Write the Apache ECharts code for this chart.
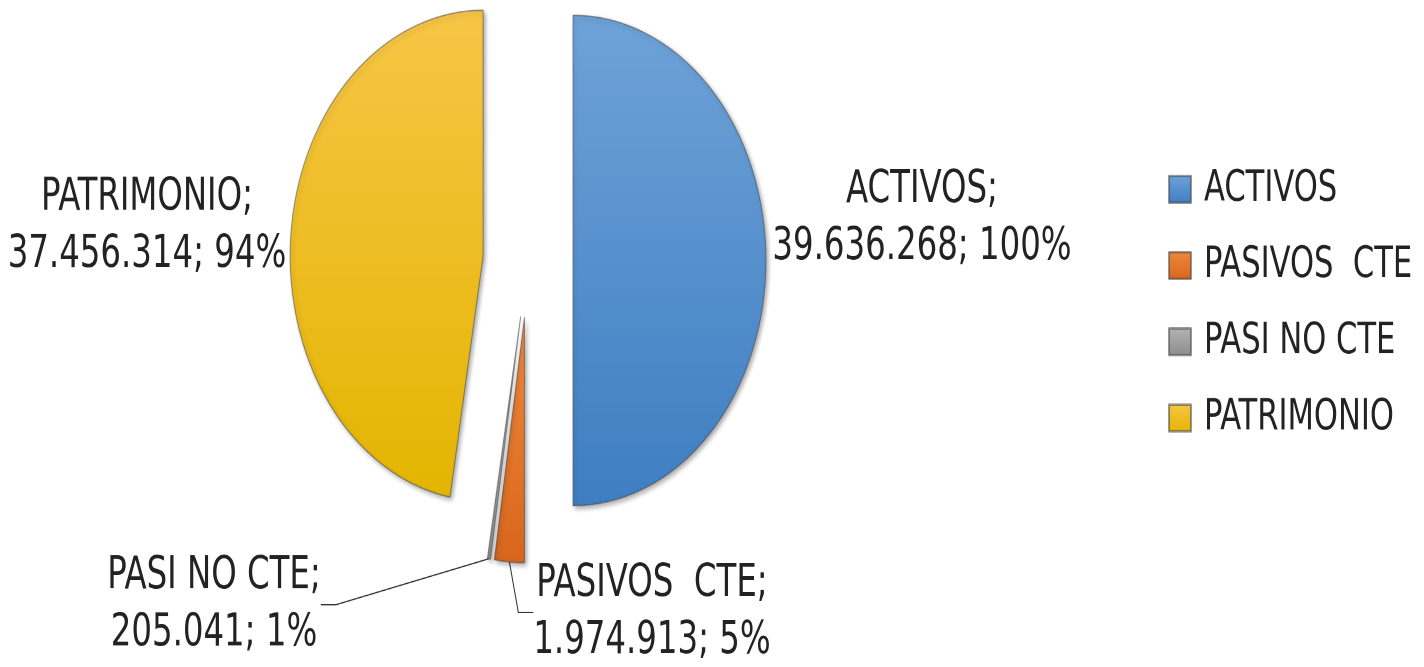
<!DOCTYPE html>
<html><head><meta charset="utf-8">
<script src="https://cdn.jsdelivr.net/npm/echarts@6/dist/echarts.min.js"></script>
<style>
html,body{margin:0;padding:0;background:#fff;overflow:hidden}
#wrap{width:1424px;height:667px;overflow:hidden;position:relative}
#chart{width:1424px;height:525px;transform-origin:0 0;transform:scaleY(1.2705)}
</style></head><body><div id="wrap"><div id="chart"></div></div>
<script>
// ---- data ----
const categories = ['ACTIVOS', 'PASIVOS  CTE', 'PASI NO CTE', 'PATRIMONIO'];
const values = [39636268, 1974913, 205041, 37456314];
const pctLabels = ['100%', '5%', '1%', '94%'];

// ---- styles / layout ----
const FONT = '"Liberation Sans Narrow", "DejaVu Sans Condensed", "Open Sans", sans-serif';
const G = echarts.graphic.LinearGradient;
const fills = [
  new G(0, 0, 0, 1, [{offset: 0, color: '#6fa3d8'}, {offset: 1, color: '#3e7ec2'}]),
  new G(0, 0, 0, 1, [{offset: 0, color: '#f08a3e'}, {offset: 1, color: '#d8661c'}]),
  new G(0, 0, 0, 1, [{offset: 0, color: '#b5b5b5'}, {offset: 1, color: '#8c8c8c'}]),
  new G(0, 0, 0, 1, [{offset: 0, color: '#f7c647'}, {offset: 1, color: '#e4b500'}])
];
const showLine = [false, true, true, false];
const labelCenters = [[922, 172], [652, 482], [214, 476], [147, 178]];
const CENTER = [528, 205];
const R = 193, OFFSET = 45;

function fmt(v) { return String(v).replace(/\B(?=(\d{3})+(?!\d))/g, '.'); }

const chart = echarts.init(document.getElementById('chart'), null, {renderer: 'canvas', devicePixelRatio: 2});
chart.setOption({
  animation: false,
  legend: {
    orient: 'vertical',
    left: 1163,
    top: 124,
    icon: 'rect',
    itemWidth: 22,
    itemHeight: 21,
    itemGap: 20,
    selectedMode: false,
    data: categories,
    textStyle: {fontFamily: FONT, fontSize: 34, lineHeight: 40, color: '#222', padding: [0, 0, 0, 8]}
  },
  series: [{
    // the exploded slices
    type: 'pie',
    center: CENTER,
    radius: R,
    startAngle: 90,
    clockwise: true,
    selectedMode: 'multiple',
    selectedOffset: OFFSET,
    emphasis: {disabled: true},
    itemStyle: {
      borderColor: 'rgba(70,70,70,0.55)', borderWidth: 1,
      shadowBlur: 4, shadowOffsetX: 2, shadowOffsetY: 2, shadowColor: 'rgba(0,0,0,0.35)'
    },
    label: {show: false},
    labelLine: {show: false},
    data: categories.map((c, i) => ({
      name: c, value: values[i], selected: true,
      itemStyle: {color: fills[i]}
    }))
  }, {
    // data labels (same data, invisible sectors reaching the exploded rim)
    type: 'pie',
    center: CENTER,
    radius: R + OFFSET,
    startAngle: 90,
    clockwise: true,
    silent: true,
    avoidLabelOverlap: false,
    emphasis: {disabled: true},
    itemStyle: {color: 'rgba(0,0,0,0)', borderWidth: 0},
    label: {
      show: true,
      position: 'outside',
      fontFamily: FONT, fontSize: 36, lineHeight: 45, color: '#222', align: 'center',
      formatter: p => p.name + ';\n' + fmt(p.value) + '; ' + pctLabels[p.dataIndex]
    },
    labelLine: {show: true, length: 20, length2: 15, lineStyle: {color: '#333', width: 1}},
    labelLayout: p => ({x: labelCenters[p.dataIndex][0], y: labelCenters[p.dataIndex][1], align: 'center', verticalAlign: 'middle'}),
    data: categories.map((c, i) => ({
      name: c, value: values[i],
      labelLine: {show: showLine[i]}
    }))
  }]
});
</script></body></html>
